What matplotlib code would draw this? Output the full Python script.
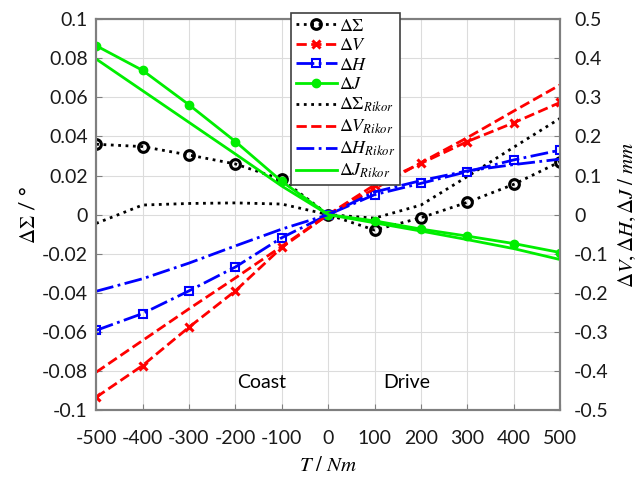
import matplotlib
matplotlib.use('Agg')
import matplotlib.pyplot as plt

plt.rcParams['font.family'] = ['Lato', 'DejaVu Sans']
plt.rcParams['mathtext.fontset'] = 'stix'
plt.rcParams['axes.unicode_minus'] = False

# torque steps
torque = [-500, -400, -300, -200, -100, 0, 100, 200, 300, 400, 500]

# left axis (deg)
d_sigma = [0.036, 0.0348, 0.0305, 0.0259, 0.018, 0.0, -0.0079, -0.0016, 0.0063, 0.0155, 0.0271]
d_sigma_rikor = [-0.0045, 0.0049, 0.0057, 0.006, 0.0054, 0.0, -0.0018, 0.0049, 0.0195, 0.0345, 0.0493]

# right axis (mm)
d_v = [-0.467, -0.386, -0.288, -0.195, -0.084, 0.0, 0.076, 0.131, 0.187, 0.235, 0.287]
d_v_rikor = [-0.403, -0.322, -0.241, -0.162, -0.081, 0.0, 0.066, 0.133, 0.197, 0.265, 0.332]
d_h = [-0.296, -0.253, -0.195, -0.134, -0.059, 0.0, 0.051, 0.080, 0.110, 0.140, 0.165]
d_h_rikor = [-0.196, -0.164, -0.124, -0.080, -0.037, 0.0, 0.058, 0.087, 0.112, 0.128, 0.142]
d_j = [0.432, 0.369, 0.281, 0.187, 0.085, 0.0, -0.016, -0.037, -0.055, -0.074, -0.097]
d_j_rikor = [0.398, 0.317, 0.236, 0.155, 0.073, 0.0, -0.021, -0.042, -0.064, -0.087, -0.115]

fig = plt.figure(figsize=(6.41, 4.78), dpi=100)
ax = fig.add_axes([0.150, 0.142, 0.724, 0.818])
ax2 = ax.twinx()

lw = 2.0
h1, = ax.plot(torque, d_sigma, ':', color='black', lw=lw, marker='o', ms=7,
              mfc='none', mew=2.2, label=r'$\Delta\Sigma$')
h2, = ax2.plot(torque, d_v, '--', color='red', lw=lw, marker='x', ms=5.5, mew=2.2,
               label=r'$\Delta V$')
h3, = ax2.plot(torque, d_h, '-.', color='blue', lw=lw, marker='s', ms=6, mfc='none',
               mew=1.5, label=r'$\Delta H$')
h4, = ax2.plot(torque, d_j, '-', color='#00ee00', lw=lw, marker='o', ms=6,
               label=r'$\Delta J$')
h5, = ax.plot(torque, d_sigma_rikor, ':', color='black', lw=lw,
              label=r'$\Delta\Sigma_{Rikor}$')
h6, = ax2.plot(torque, d_v_rikor, '--', color='red', lw=lw, label=r'$\Delta V_{Rikor}$')
h7, = ax2.plot(torque, d_h_rikor, '-.', color='blue', lw=lw, label=r'$\Delta H_{Rikor}$')
h8, = ax2.plot(torque, d_j_rikor, '-', color='#00ee00', lw=lw, label=r'$\Delta J_{Rikor}$')

ax.set_xlim(-500, 500)
ax.set_ylim(-0.1, 0.1)
ax2.set_ylim(-0.5, 0.5)
ax.set_xticks(torque)
ax.set_xticklabels([str(t) for t in torque])
ax.set_yticks([-0.1, -0.08, -0.06, -0.04, -0.02, 0, 0.02, 0.04, 0.06, 0.08, 0.1])
ax.set_yticklabels(['-0.1', '-0.08', '-0.06', '-0.04', '-0.02', '0',
                    '0.02', '0.04', '0.06', '0.08', '0.1'])
ax2.set_yticks([-0.5, -0.4, -0.3, -0.2, -0.1, 0, 0.1, 0.2, 0.3, 0.4, 0.5])
ax2.set_yticklabels(['-0.5', '-0.4', '-0.3', '-0.2', '-0.1', '0',
                     '0.1', '0.2', '0.3', '0.4', '0.5'])

ax.grid(True, color='#dcdcdc', lw=0.8)
ax.set_axisbelow(True)
for a in (ax, ax2):
    for s in a.spines.values():
        s.set_color('#7f7f7f')
        s.set_linewidth(1.5)
    a.tick_params(direction='in', length=4, color='#7f7f7f', labelsize=14,
                  labelcolor='#1a1a1a', pad=6)
ax.tick_params(axis='x', pad=14)
ax2.tick_params(axis='y', pad=10)

ax.set_xlabel(r'$T\ /\ Nm$', fontsize=15, labelpad=6)
ax.set_ylabel(r'$\Delta\Sigma$ / °', fontsize=15, labelpad=2)
ax2.set_ylabel(r'$\Delta V, \Delta H, \Delta J\ /\ mm$', fontsize=15, labelpad=6,
               rotation=90)

ax.text(-144, -0.086, 'Coast', fontsize=14, ha='center', va='center')
ax.text(170, -0.086, 'Drive', fontsize=14, ha='center', va='center')

handles = [h1, h2, h3, h4, h5, h6, h7, h8]
leg = ax2.legend(handles=handles, loc='upper left', bbox_to_anchor=(291 / 641, 1 - 13 / 478),
                 bbox_transform=fig.transFigure, fontsize=13, frameon=True, fancybox=False,
                 handlelength=2.3, handletextpad=0.1, labelspacing=0.2, borderpad=0.25,
                 borderaxespad=0)
leg.get_frame().set_edgecolor('#404040')
leg.get_frame().set_linewidth(1.2)
leg.get_frame().set_alpha(1)

fig.savefig('out.png', dpi=100)
